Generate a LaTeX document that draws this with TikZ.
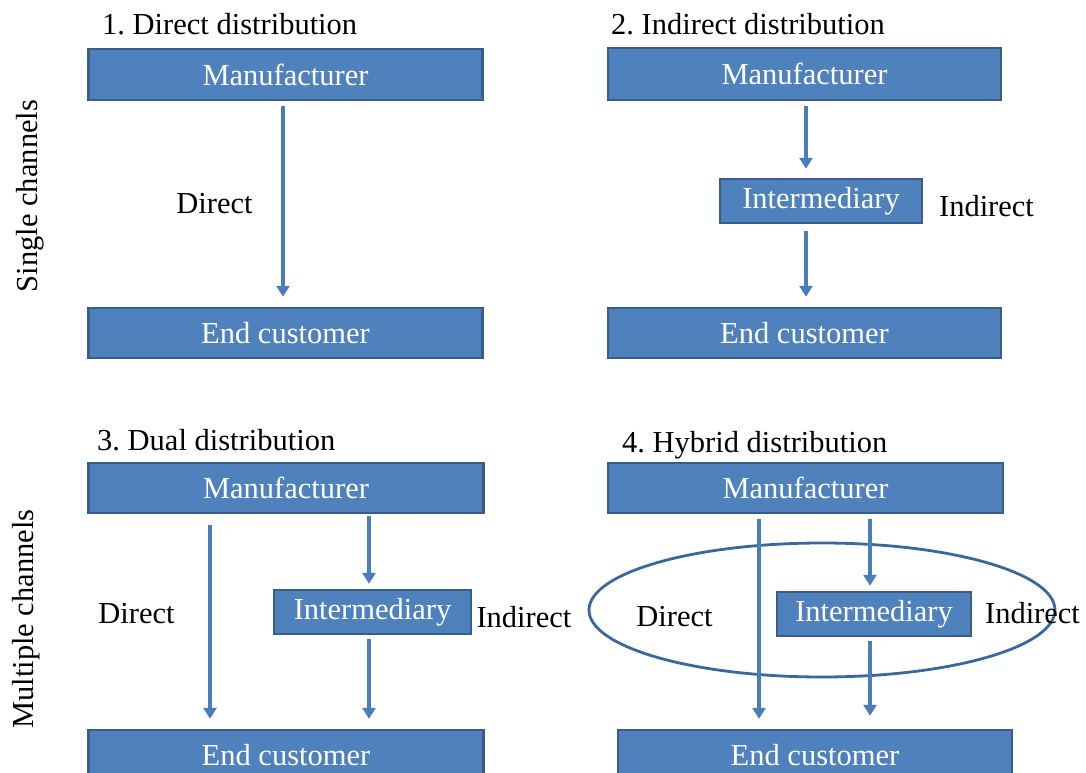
\documentclass[tikz,border=0pt]{standalone}
\usepackage{fontspec}
\setmainfont{Liberation Serif}
\frenchspacing
\usetikzlibrary{arrows.meta}
\definecolor{boxblue}{HTML}{4F81BD}
\definecolor{boxline}{HTML}{385D8A}
\definecolor{flowblue}{HTML}{4A7EBB}
\definecolor{ringblue}{HTML}{3A679C}
\begin{document}
\begin{tikzpicture}[x=1pt, y=-1pt,
  font=\fontsize{30.5}{36}\selectfont,
  box/.style={rectangle, draw=boxline, fill=boxblue, line width=2.4pt, text=white, inner sep=0pt, minimum height=50pt},
  flow/.style={draw=flowblue, line width=3.2pt, -{Triangle[length=11pt, width=13pt]}},
  ring/.style={draw=ringblue, line width=2.8pt},
  label/.style={inner sep=0pt}]
  \useasboundingbox (0,0) rectangle (1086,773);
  % Side labels
  \node (SINGLE) [label, rotate=90] at (30, 196) {Single channels};
  \node (MULTI) [label, rotate=90] at (26, 619) {Multiple channels};
  % Headers
  \node (T1) [label, anchor=base west] at (102, 35) {1. Direct distribution};
  \node (T2) [label, anchor=base west] at (611, 35) {2. Indirect distribution};
  \node (T3) [label, anchor=base west] at (97, 450) {3. Dual distribution};
  \node (T4) [label, anchor=base west] at (622, 452) {4. Hybrid distribution};
  % Nodes
  \node (MAN1) [box, minimum width=394pt, minimum height=51pt] at (285.5, 74.5) {Manufacturer};
  \node (END1) [box, minimum width=394pt] at (285.5, 333) {End customer};
  \node (MAN2) [box, minimum width=393pt, minimum height=52pt] at (804.5, 74) {Manufacturer};
  \node (INTER2) [box, minimum width=202pt, minimum height=44pt] at (821, 201) {Intermediary};
  \node (END2) [box, minimum width=393pt] at (804.5, 333) {End customer};
  \node (MAN3) [box, minimum width=395pt] at (286, 488) {Manufacturer};
  \node (INTER3) [box, minimum width=197pt, minimum height=44pt] at (372.5, 612) {Intermediary};
  \node (END3) [box, minimum width=395pt, minimum height=51pt] at (286, 755.5) {End customer};
  \node (MAN4) [box, minimum width=395pt] at (805.5, 488) {Manufacturer};
  \node (INTER4) [box, minimum width=194pt, minimum height=44pt] at (874, 614) {Intermediary};
  \node (END4) [box, minimum width=394pt, minimum height=51pt] at (815, 755.5) {End customer};
  % Ellipse
  \draw[ring] (822, 610) ellipse [x radius=233pt, y radius=67pt];
  % Arrows
  \draw[flow, shorten <=5pt, shorten >=10pt] ([xshift=-2.5pt]MAN1.south) -- ([xshift=-2.5pt]END1.north);
  \draw[flow, shorten <=5pt, shorten >=9pt] ([xshift=1.5pt]MAN2.south) -- ([xshift=1.5pt]MAN2.south |- INTER2.north);
  \draw[flow, shorten <=7pt, shorten >=10pt] ([xshift=1.5pt]MAN2.south |- INTER2.south) -- ([xshift=1.5pt]END2.north);
  \draw[flow, shorten <=11pt, shorten >=10pt] ([xshift=-76pt]MAN3.south) -- ([xshift=-76pt]END3.north);
  \draw[flow, shorten <=2pt, shorten >=5pt] ([xshift=83pt]MAN3.south) -- ([xshift=83pt]MAN3.south |- INTER3.north);
  \draw[flow, shorten <=4pt, shorten >=10pt] ([xshift=83pt]MAN3.south |- INTER3.south) -- ([xshift=83pt]END3.north);
  \draw[flow, shorten <=5pt, shorten >=10pt] ([xshift=-46.5pt]MAN4.south) -- ([xshift=-56pt]END4.north);
  \draw[flow, shorten <=5pt, shorten >=5pt] ([xshift=64.5pt]MAN4.south) -- ([xshift=64.5pt]MAN4.south |- INTER4.north);
  \draw[flow, shorten <=4pt, shorten >=13pt] ([xshift=64.5pt]MAN4.south |- INTER4.south) -- ([xshift=55pt]END4.north);
  % Channel labels
  \node (DIR1) [label] at (214.5, 204) {Direct};
  \node (IND2) [label] at (986.5, 206) {Indirect};
  \node (DIR3) [label] at (136.5, 614) {Direct};
  \node (IND3) [label] at (524, 617) {Indirect};
  \node (DIR4) [label] at (674.5, 617) {Direct};
  \node (IND4) [label] at (1032.5, 613) {Indirect};
\end{tikzpicture}
\end{document}
